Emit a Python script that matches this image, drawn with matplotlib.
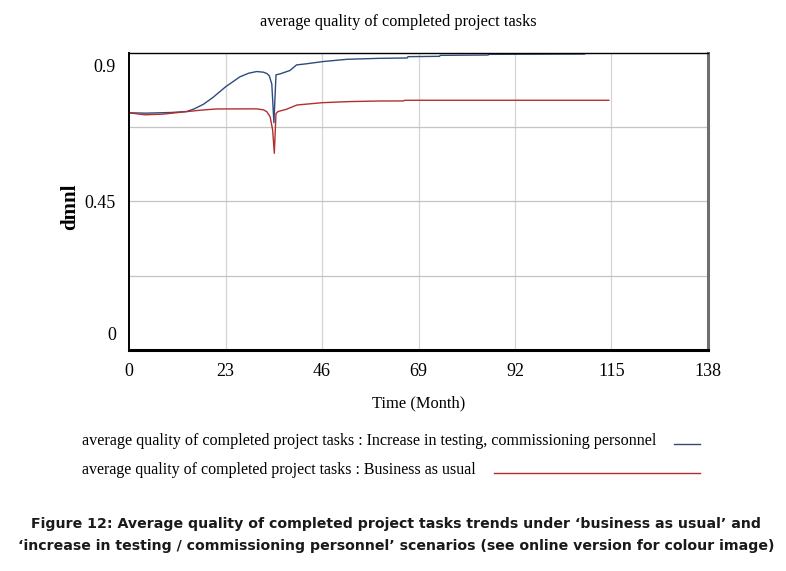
import matplotlib
matplotlib.use("Agg")
import matplotlib.pyplot as plt
from matplotlib.lines import Line2D
import matplotlib.transforms as mtransforms

# ---------------- data ----------------
title = "average quality of completed project tasks"
x_label = "Time (Month)"
y_label = "dmnl"
x_ticks = [0, 23, 46, 69, 92, 115, 138]
y_ticks = [0, 0.45, 0.9]
y_tick_labels = ["0", "0.45", "0.9"]
y_grid = [0.225, 0.45, 0.675]
series_names = [
    "average quality of completed project tasks : Increase in testing, commissioning personnel",
    "average quality of completed project tasks : Business as usual",
]
caption_lines = [
    "Figure 12: Average quality of completed project tasks trends under \u2018business as usual\u2019 and",
    "\u2018increase in testing / commissioning personnel\u2019 scenarios (see online version for colour image)",
]

t_increase = [0, 4, 10, 13.7, 15.5, 17.7, 20, 23, 26.4, 28.5, 30.4, 32, 32.8, 33.4, 34.0,
              34.5, 35.0, 36, 38.3, 39.9, 42, 46.1, 51.9, 59.8, 66.3, 66.5, 74.0, 74.2,
              85.6, 85.8, 108.6, 108.8, 138]
q_increase = [0.718, 0.717, 0.719, 0.722, 0.730, 0.744, 0.765, 0.797, 0.827, 0.838, 0.843,
              0.841, 0.837, 0.830, 0.805, 0.688, 0.833, 0.836, 0.846, 0.863, 0.866, 0.873,
              0.880, 0.883, 0.884, 0.888, 0.889, 0.892, 0.893, 0.895, 0.896, 0.898, 0.899]

t_bau = [0, 3.7, 8, 13.7, 17, 20.8, 30.4, 32, 32.8, 33.6, 34.2, 34.6, 35.0, 35.5, 37.5,
         40, 46.1, 52.5, 59.8, 65.5, 65.7, 114.4]
q_bau = [0.718, 0.712, 0.714, 0.7216, 0.726, 0.7297, 0.730, 0.727, 0.7216, 0.706, 0.666,
         0.5955, 0.716, 0.722, 0.7287, 0.7417, 0.7487, 0.752, 0.7538, 0.754, 0.756, 0.756]

blue = "#2f4b7c"
red = "#b22f2f"

# ---------------- figure ----------------
W, H = 786, 571
fig = plt.figure(figsize=(W / 100, H / 100), dpi=100)
renderer = fig.canvas.get_renderer()

serif = "Liberation Serif"


def fit(txt, target_w):
    w = txt.get_window_extent(renderer).width
    txt.set_fontsize(txt.get_fontsize() * target_w / w)
    return txt


def fx(px):
    return px / W


def fy(py):
    return 1 - py / H


ax_l, ax_r, ax_t, ax_b = 129.3, 707.7, 52.7, 350
ax = fig.add_axes([fx(ax_l), fy(ax_b), fx(ax_r - ax_l), (ax_b - ax_t) / H])

ax.plot(t_increase, q_increase, color=blue, lw=1.0, zorder=3)
ax.plot(t_bau, q_bau, color=red, lw=1.0, zorder=3)

ax.set_xlim(0, 138)
ax.set_ylim(0, 0.9)
ax.set_xticks(x_ticks)
ax.set_yticks(y_ticks)
ax.set_yticklabels([])
for xv in x_ticks[1:-1]:
    ax.axvline(xv, color="#d4d4d4", lw=0.9, zorder=1)
for yv in y_grid:
    ax.axhline(yv, color="#c4c4c4", lw=0.9, zorder=1)

ax.tick_params(axis="both", length=0)
ax.tick_params(axis="x", pad=9)
for lab in ax.get_xticklabels():
    lab.set_fontfamily(serif)
    lab.set_fontsize(13)

ax.spines["left"].set_linewidth(1.4)
ax.spines["bottom"].set_linewidth(2.2)
ax.spines["top"].set_linewidth(1.0)
ax.spines["right"].set_linewidth(2.2)
ax.spines["right"].set_color("#6e6e6e")
for s in ax.spines.values():
    s.set_zorder(4)

# y tick labels, offset like the original
blend = mtransforms.blended_transform_factory(ax.transAxes, ax.transData)
offsets_px = [15, -2, -15]
for val, lab, off in zip(y_ticks, y_tick_labels, offsets_px):
    tr = blend + mtransforms.ScaledTranslation(0, off / 100, fig.dpi_scale_trans)
    ax.text(-13.5 / (ax_r - ax_l), val, lab, transform=tr, ha="right", va="center",
            family=serif, fontsize=13)

# titles and labels
t = fig.text(fx(398), fy(22), title, ha="center", va="center", family=serif, fontsize=14)
fit(t, 276)
xl = fig.text(fx(419), fy(403), x_label, ha="center", va="center", family=serif, fontsize=14)
fit(xl, 94)
yl = fig.text(fx(70), fy(207), y_label, ha="center", va="center", family=serif,
              fontsize=15, fontweight="bold", rotation=90)

# legend-like labels
leg_y = [441, 470]
leg_w = [575, 396]
for name, yy, ww, col in zip(series_names, leg_y, leg_w, [blue, red]):
    tx = fig.text(fx(82), fy(yy), name, ha="left", va="center", family=serif, fontsize=12)
    fit(tx, ww)
    x1 = tx.get_window_extent(renderer).x1
    fig.add_artist(Line2D([fx(x1 + 18), fx(700)], [fy(yy + 3), fy(yy + 3)], color=col, lw=1.0))

# caption
cap_y = [524, 546]
cap_w = [728, 759]
for line, yy, ww in zip(caption_lines, cap_y, cap_w):
    c = fig.text(fx(396), fy(yy), line, ha="center", va="center", family="DejaVu Sans",
                 fontweight="bold", fontsize=10, color="#1a1a1a")
    fit(c, ww)

fig.savefig("out.png", dpi=100)
